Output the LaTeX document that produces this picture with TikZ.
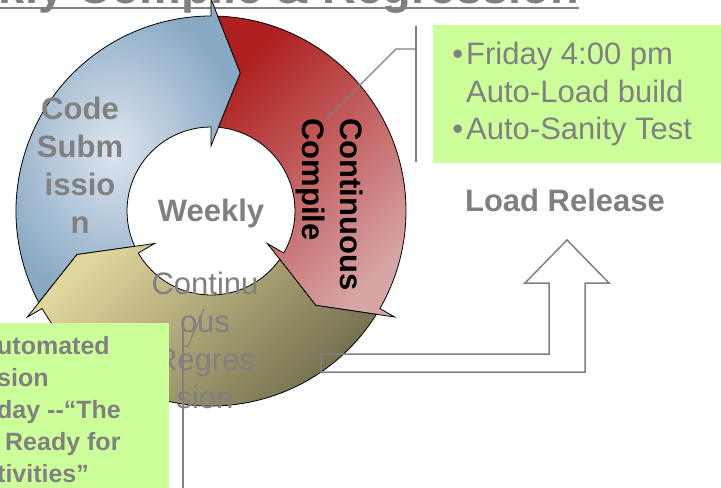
\documentclass[tikz,border=0pt]{standalone}
\usepackage{fontspec}
\setmainfont{Liberation Sans}
\usetikzlibrary{positioning}
\definecolor{txtgray}{HTML}{808080}
\definecolor{notegreen}{HTML}{CCFF99}
\definecolor{subLight}{HTML}{DDE4EF}
\definecolor{subDark}{HTML}{89AAC4}
\definecolor{cmpDark}{HTML}{B01F1F}
\definecolor{cmpLight}{HTML}{D6A5A5}
\definecolor{regLight}{HTML}{E0D69C}
\definecolor{regDark}{HTML}{6C6849}

\begin{document}
\begin{tikzpicture}[x=1bp, y=1bp,
  ringedge/.style={draw=black, line width=0.8bp},
  subarc/.style={ringedge, inner color=subLight, outer color=subDark},
  cmparc/.style={ringedge, top color=cmpDark, bottom color=cmpLight, shading angle=45},
  regarc/.style={ringedge, top color=regLight, bottom color=regDark, shading angle=45},
  seglabel/.style={font=\fontsize{31bp}{38bp}\selectfont\bfseries, text=txtgray, inner sep=0pt, align=center},
  notetext/.style={font=\fontsize{31bp}{37.5bp}\selectfont, text=txtgray, inner sep=0pt, align=left},
  leader/.style={draw=txtgray, line width=1.2bp}]
\useasboundingbox (0,0) rectangle (721,-488);
\clip (0,0) rectangle (721,-488);
% title, mostly above the page
\node[font=\fontsize{47bp}{56bp}\selectfont\bfseries, text=txtgray, inner sep=0pt, anchor=base west] (title) at (-97,-4) {Weekly Compile \& Regression};
\draw[txtgray, line width=2.5bp] ([yshift=-4bp]title.base west) -- ([yshift=-4bp]title.base east);
% three arrows of the cycle: tail angle / look
\begin{scope}[shift={(211,-211)}]
\foreach \a/\sty in {210/subarc, 90/cmparc, -30/regarc}
  \shade[\sty] (\a-2:195) arc[start angle=\a-2, end angle=\a-120, radius=195]
    -- (\a-120:212) -- (\a-132:141) -- (\a-120:65) -- (\a-120:84)
    arc[start angle=\a-120, end angle=\a-5.1, radius=84]
    -- (\a-12:141) -- cycle;
\end{scope}
\node[seglabel] (sub) at (80,-165) {Code\\Subm\\issio\\n};
\node[seglabel, anchor=base] (week) at (211,-222) {Weekly};
% base of a multi-line node is its last line
\node[seglabel, text=black, align=left, rotate=-90, anchor=base west] (cmp) at (302,-118) {Continuous\\Compile};
\node[seglabel, font=\fontsize{31bp}{38bp}\selectfont] (reg) at (205,-340) {Continu\\ous\\Regres\\sion};
% bent arrow up to the release
\draw[txtgray, line width=1.5bp] (567,-240) -- (609,-283) -- (585,-283) -- (585,-372) -- (321,-372)
  -- (321,-354) -- (549,-354) -- (549,-283) -- (525,-283) -- cycle;
\node[seglabel, anchor=base] (load) at (565,-212) {Load Release};
% callout on the compile step
\fill[notegreen] (433,-25) rectangle (725,-163);
\node[notetext, anchor=base west] (sched) at (466,-140) {\llap{•\hspace{3bp}}Friday 4:00 pm\\Auto-Load build\\\llap{•\hspace{3bp}}Auto-Sanity Test};
\coordinate (cmppin) at (325,-120);
\coordinate (cmpbend) at (396,-49);
\coordinate (cmpbar) at (416,-49);
\draw[leader] (416,-26) -- (416,-162);
\draw[leader] (cmppin) -- (cmpbend) -- (cmpbar);
% callout on the regression step
\fill[notegreen] (-5,-323) rectangle (169,-495);
\node[anchor=base west, font=\fontsize{25bp}{32bp}\selectfont\bfseries, text=txtgray, align=left, inner sep=0pt] (regnote) at (-3,-482) {utomated\\sion\\day -{}-“The\\\hspace*{8bp}Ready for\\tivities”};
\coordinate (regpin) at (204,-309);
\coordinate (regbend) at (188,-346);
\coordinate (regbar) at (183,-346);
\draw[leader] (183,-326) -- (183,-495);
\draw[leader] (regpin) -- (regbend) -- (regbar);
\end{tikzpicture}
\end{document}
